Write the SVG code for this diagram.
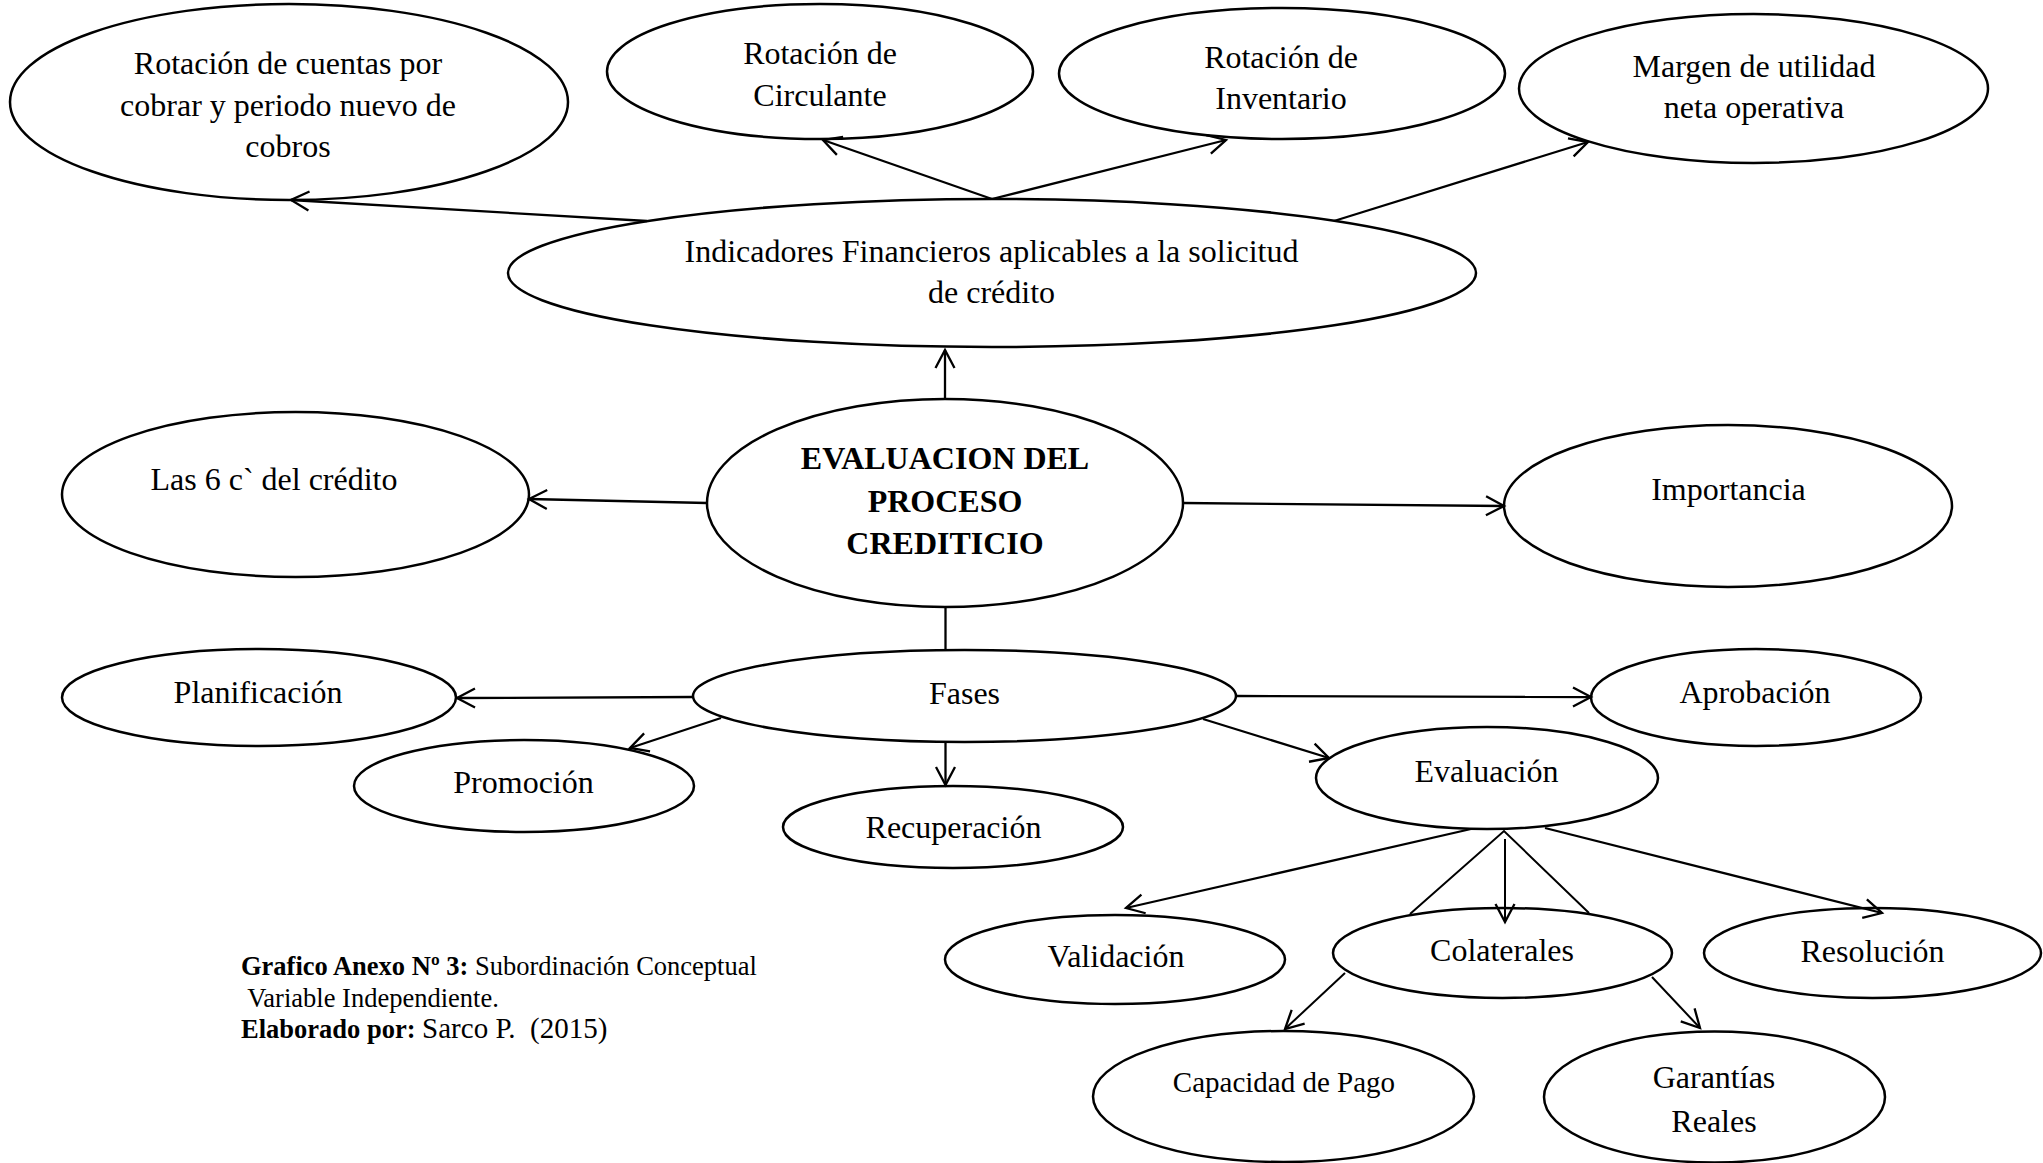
<svg xmlns="http://www.w3.org/2000/svg" width="2043" height="1163" viewBox="0 0 2043 1163">
  <style>
    .node ellipse { fill: #fff; stroke: #000; stroke-width: 2.5; }
    text { font-family: "Liberation Serif", "Times New Roman", serif; font-size: 32px; fill: #000; }
    .c { text-anchor: middle; }
    .b { font-weight: bold; }
    .cap { font-size: 26.5px; white-space: pre; }
    .edge { stroke: #000; stroke-width: 2.3; fill: none; }
    .thin { stroke-width: 2; }
  </style>
  <defs>
    <marker id="arr" markerUnits="userSpaceOnUse" markerWidth="40" markerHeight="40" viewBox="-20 -20 40 40" refX="0" refY="0" orient="auto" overflow="visible">
      <path d="M-18,-9.5 L0,0 L-18,9.5" fill="none" stroke="#000" stroke-width="2.3"/>
    </marker>
  </defs>

  <rect width="2043" height="1163" fill="#fff"/>

  <!-- top row: financial indicators -->
  <g id="n-cuentas" class="node">
    <ellipse cx="289" cy="102" rx="279" ry="98"/>
    <text class="c" x="288" y="74">Rotación de cuentas por</text>
    <text class="c" x="288" y="115.5">cobrar y periodo nuevo de</text>
    <text class="c" x="288" y="157">cobros</text>
  </g>
  <g id="n-circulante" class="node">
    <ellipse cx="820" cy="71.5" rx="213" ry="67.5"/>
    <text class="c" x="820" y="64">Rotación de</text>
    <text class="c" x="820" y="106">Circulante</text>
  </g>
  <g id="n-inventario" class="node">
    <ellipse cx="1282" cy="73.5" rx="223" ry="65.5"/>
    <text class="c" x="1281" y="68">Rotación de</text>
    <text class="c" x="1281" y="109">Inventario</text>
  </g>
  <g id="n-margen" class="node">
    <ellipse cx="1753.5" cy="88.5" rx="234.5" ry="74.5"/>
    <text class="c" x="1754" y="77">Margen de utilidad</text>
    <text class="c" x="1754" y="118">neta operativa</text>
  </g>
  <g id="n-indicadores" class="node">
    <ellipse cx="992" cy="273" rx="484" ry="74"/>
    <text class="c" x="991.5" y="262">Indicadores Financieros aplicables a la solicitud</text>
    <text class="c" x="991.5" y="303">de crédito</text>
  </g>

  <!-- central concept -->
  <g id="n-evaluacion-proceso" class="node">
    <ellipse cx="945" cy="503" rx="238" ry="104"/>
    <text class="c b" x="945" y="469">EVALUACION DEL</text>
    <text class="c b" x="945" y="511.5">PROCESO</text>
    <text class="c b" x="945" y="554">CREDITICIO</text>
  </g>
  <g id="n-6c" class="node">
    <ellipse cx="295.5" cy="494.5" rx="233.5" ry="82.5"/>
    <text class="c" x="274" y="490">Las 6 c` del crédito</text>
  </g>
  <g id="n-importancia" class="node">
    <ellipse cx="1728" cy="506" rx="224" ry="81"/>
    <text class="c" x="1728.5" y="500">Importancia</text>
  </g>

  <!-- phases -->
  <g id="n-fases" class="node">
    <ellipse cx="964.5" cy="696" rx="271.5" ry="46"/>
    <text class="c" x="964.5" y="704">Fases</text>
  </g>
  <g id="n-planificacion" class="node">
    <ellipse cx="259" cy="697.5" rx="197" ry="48.5"/>
    <text class="c" x="258" y="703">Planificación</text>
  </g>
  <g id="n-promocion" class="node">
    <ellipse cx="524" cy="786" rx="170" ry="46"/>
    <text class="c" x="523.5" y="793">Promoción</text>
  </g>
  <g id="n-recuperacion" class="node">
    <ellipse cx="953" cy="827" rx="170" ry="41"/>
    <text class="c" x="953.5" y="838">Recuperación</text>
  </g>
  <g id="n-aprobacion" class="node">
    <ellipse cx="1756" cy="697.5" rx="165" ry="48.5"/>
    <text class="c" x="1755" y="703">Aprobación</text>
  </g>
  <g id="n-evaluacion" class="node">
    <ellipse cx="1487" cy="778" rx="171" ry="51"/>
    <text class="c" x="1486.5" y="782">Evaluación</text>
  </g>

  <!-- evaluation branches -->
  <g id="n-validacion" class="node">
    <ellipse cx="1115" cy="959.5" rx="170" ry="44.5"/>
    <text class="c" x="1116" y="967">Validación</text>
  </g>
  <g id="n-colaterales" class="node">
    <ellipse cx="1502.5" cy="953" rx="169.5" ry="45"/>
    <text class="c" x="1502" y="961">Colaterales</text>
  </g>
  <g id="n-resolucion" class="node">
    <ellipse cx="1872.5" cy="953" rx="168.5" ry="45"/>
    <text class="c" x="1872.5" y="962">Resolución</text>
  </g>
  <g id="n-capacidad" class="node">
    <ellipse cx="1283.5" cy="1096.5" rx="190.5" ry="65.5"/>
    <text class="c" x="1284" y="1092" style="font-size:29px">Capacidad de Pago</text>
  </g>
  <g id="n-garantias" class="node">
    <ellipse cx="1714.5" cy="1097" rx="170.5" ry="65.5"/>
    <text class="c" x="1714" y="1088">Garantías</text>
    <text class="c" x="1714" y="1132">Reales</text>
  </g>

  <!-- connectors, drawn over the ellipses so arrowheads stay visible -->
  <g id="connectors">
    <line class="edge" x1="647" y1="221" x2="291" y2="200" marker-end="url(#arr)"/>
    <line class="edge" x1="992" y1="199" x2="823" y2="140" marker-end="url(#arr)"/>
    <line class="edge" x1="992" y1="199" x2="1226" y2="140" marker-end="url(#arr)"/>
    <line class="edge" x1="1334" y1="221" x2="1588" y2="142" marker-end="url(#arr)"/>
    <line class="edge" x1="945" y1="399" x2="945" y2="350" marker-end="url(#arr)"/>
    <line class="edge" x1="707" y1="503" x2="529" y2="499" marker-end="url(#arr)"/>
    <line class="edge" x1="1183" y1="503" x2="1504" y2="506" marker-end="url(#arr)"/>
    <line class="edge" x1="945.5" y1="607" x2="945.5" y2="650"/>
    <line class="edge" x1="693" y1="697" x2="457" y2="698" marker-end="url(#arr)"/>
    <line class="edge" x1="721" y1="718" x2="630" y2="748" marker-end="url(#arr)"/>
    <line class="edge" x1="945.5" y1="742" x2="945.5" y2="785" marker-end="url(#arr)"/>
    <line class="edge" x1="1236" y1="696" x2="1591" y2="697" marker-end="url(#arr)"/>
    <line class="edge" x1="1203" y1="719" x2="1329" y2="758" marker-end="url(#arr)"/>
    <line class="edge" x1="1471" y1="829" x2="1126" y2="908" marker-end="url(#arr)"/>
    <line class="edge" x1="1545" y1="828" x2="1882" y2="913" marker-end="url(#arr)"/>
    <line class="edge thin" x1="1505" y1="839" x2="1505" y2="922" marker-end="url(#arr)"/>
    <polyline class="edge thin" points="1410,914 1504,831 1589,913"/>
    <line class="edge thin" x1="1345" y1="973" x2="1285" y2="1029" marker-end="url(#arr)"/>
    <line class="edge thin" x1="1652" y1="977" x2="1700" y2="1028" marker-end="url(#arr)"/>
  </g>

  <!-- caption -->
  <g id="caption">
    <text class="cap" x="241" y="975"><tspan class="b">Grafico Anexo Nº 3:</tspan> Subordinación Conceptual</text>
    <text class="cap" x="241" y="1007"> Variable Independiente.</text>
    <text class="cap" x="241" y="1038"><tspan class="b">Elaborado por:</tspan> <tspan style="font-size:29px">Sarco P.  (2015)</tspan></text>
  </g>
</svg>
